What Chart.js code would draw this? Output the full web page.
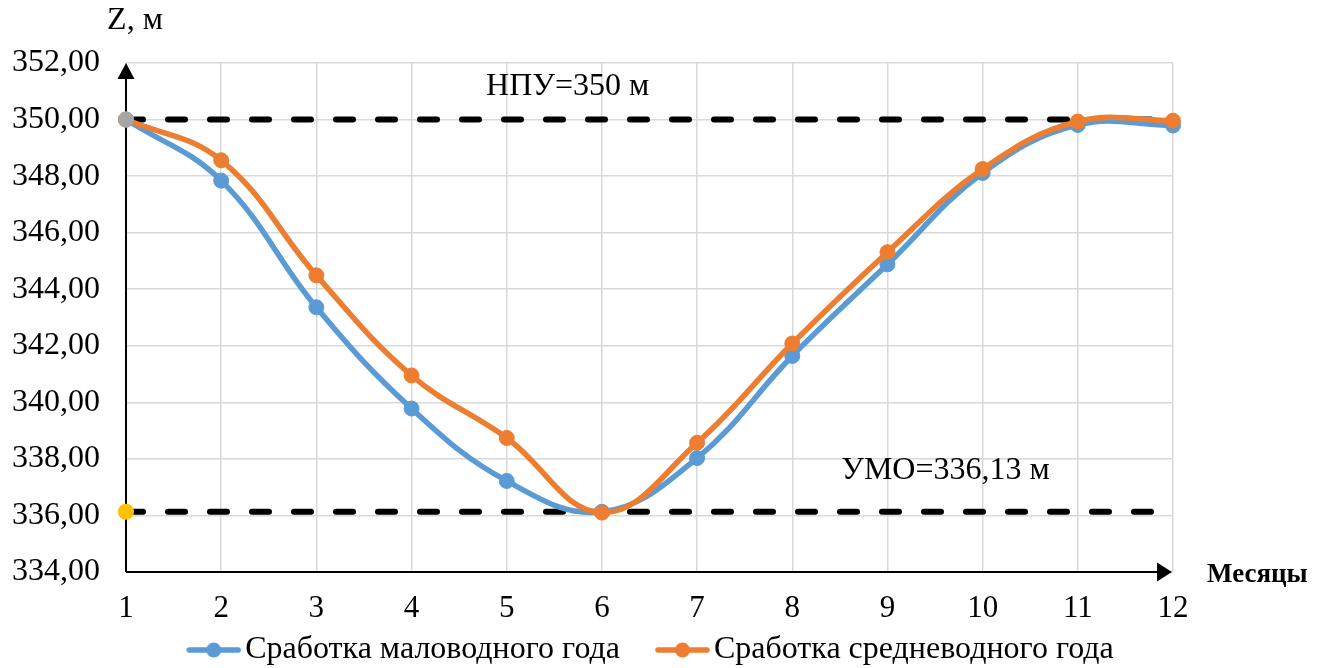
<!DOCTYPE html>
<html>
<head>
<meta charset="utf-8">
<script src="https://cdn.jsdelivr.net/npm/chart.js@4"></script>
<style>
  html, body { margin: 0; padding: 0; background: #ffffff; }
  #wrap { width: 1323px; height: 668px; }
</style>
</head>
<body>
<div id="wrap"><canvas id="chart" width="1323" height="668"></canvas></div>
<script>
// Months of the drawdown cycle
const months = [1, 2, 3, 4, 5, 6, 7, 8, 9, 10, 11, 12];

// Reservoir level Z, m
const lowWaterYear = [350.00, 347.84, 343.36, 339.78, 337.22, 336.13, 338.03, 341.64, 344.88, 348.11, 349.81, 349.79];
const averageYear  = [350.00, 348.56, 344.49, 340.95, 338.74, 336.10, 338.57, 342.08, 345.31, 348.25, 349.93, 349.96];

// Characteristic levels
const levelNPU = 350.00;
const levelUMO = 336.13;

// Axis ticks
const zTicks = [334, 336, 338, 340, 342, 344, 346, 348, 350, 352];

// Labels of the characteristic levels and where they sit (data coordinates)
const labelNPU = 'НПУ=350 м';
const labelUMO = 'УМО=336,13 м';
const anchorNPU = { x: 5.64, y: 351.16 };
const anchorUMO = { x: 9.61, y: 337.60 };

const seriesNames = ['Сработка маловодного года', 'Сработка средневодного года'];

const FONT = "'Liberation Serif', 'Times New Roman', serif";
const BLUE = '#5B9BD5';
const ORANGE = '#ED7D31';
const GREY = '#A5A5A5';
const YELLOW = '#FFC000';

Chart.defaults.font.family = FONT;
Chart.defaults.color = '#000000';

const pairs = (xs, ys) => xs.map((x, i) => ({ x, y: ys[i] }));

// Legend glyph: a short line with a dot, drawn at the right end of a wider transparent canvas
function legendGlyph(color) {
  const c = document.createElement('canvas');
  c.width = 100; c.height = 18;
  const g = c.getContext('2d');
  const right = c.width - 1;
  const left = right - 55;
  g.strokeStyle = color;
  g.lineWidth = 5.5;
  g.lineCap = 'round';
  g.beginPath();
  g.moveTo(left + 3, 9);
  g.lineTo(right - 3, 9);
  g.stroke();
  g.fillStyle = color;
  g.beginPath();
  g.arc((left + right) / 2, 9, 7.5, 0, Math.PI * 2);
  g.fill();
  return c;
}
const glyphs = [legendGlyph(BLUE), legendGlyph(ORANGE)];

// Axis lines with arrowheads and the free-standing captions
const axesAndCaptions = {
  id: 'axesAndCaptions',
  beforeDatasetsDraw(chart) {
    const { ctx, scales: { x, y } } = chart;
    const x0 = x.getPixelForValue(months[0]);
    const x1 = x.getPixelForValue(months[months.length - 1]);
    const yb = y.getPixelForValue(zTicks[0]);
    const yt = y.getPixelForValue(zTicks[zTicks.length - 1]);
    ctx.save();
    ctx.strokeStyle = '#000';
    ctx.fillStyle = '#000';
    ctx.lineWidth = 2;
    // vertical axis
    ctx.beginPath();
    ctx.moveTo(x0, yb);
    ctx.lineTo(x0, yt + 12);
    ctx.stroke();
    ctx.beginPath();
    ctx.moveTo(x0, yt);
    ctx.lineTo(x0 - 8.5, yt + 16);
    ctx.lineTo(x0 + 8.5, yt + 16);
    ctx.closePath();
    ctx.fill();
    // horizontal axis
    ctx.beginPath();
    ctx.moveTo(x0, yb);
    ctx.lineTo(x1 - 14, yb);
    ctx.stroke();
    ctx.beginPath();
    ctx.moveTo(x1 - 1, yb);
    ctx.lineTo(x1 - 16, yb - 9.5);
    ctx.lineTo(x1 - 16, yb + 9.5);
    ctx.closePath();
    ctx.fill();
    ctx.restore();
  },
  afterDraw(chart) {
    const { ctx, chartArea: a, scales: { x, y } } = chart;
    ctx.save();
    ctx.fillStyle = '#000';
    ctx.textBaseline = 'middle';
    ctx.font = `32px ${FONT}`;
    ctx.textAlign = 'center';
    ctx.fillText('Z, м', a.left + 9, a.top - 42);
    ctx.fillText(labelNPU, x.getPixelForValue(anchorNPU.x), y.getPixelForValue(anchorNPU.y));
    ctx.fillText(labelUMO, x.getPixelForValue(anchorUMO.x), y.getPixelForValue(anchorUMO.y));
    ctx.font = `bold 27px ${FONT}`;
    ctx.textAlign = 'left';
    ctx.fillText('Месяцы', a.right + 34, a.bottom + 3);
    ctx.restore();
  }
};

const dashed = {
  borderColor: '#000000',
  borderWidth: 6,
  borderDash: [17, 25],
  borderCapStyle: 'round',
  pointRadius: 0,
  pointHoverRadius: 0,
  tension: 0,
  order: 5,
  clip: false
};

const series = (label, color, values, order) => ({
  label,
  data: pairs(months, values),
  borderColor: color,
  backgroundColor: color,
  pointBackgroundColor: color,
  pointBorderColor: color,
  borderWidth: 5.5,
  pointRadius: 7.5,
  pointBorderWidth: 1,
  pointHoverRadius: 7.5,
  tension: 0.4,
  order,
  clip: false
});

new Chart(document.getElementById('chart'), {
  type: 'line',
  data: {
    datasets: [
      series(seriesNames[0], BLUE, lowWaterYear, 3),
      series(seriesNames[1], ORANGE, averageYear, 2),
      Object.assign({ label: labelNPU, data: [{ x: months[0], y: levelNPU }, { x: months[months.length - 1], y: levelNPU }] }, dashed),
      Object.assign({ label: labelUMO, data: [{ x: months[0], y: levelUMO }, { x: months[months.length - 1], y: levelUMO }] }, dashed),
      {
        label: 'НПУ', data: [{ x: months[0], y: levelNPU }], showLine: false,
        pointRadius: 8, pointBackgroundColor: GREY, pointBorderColor: GREY, pointBorderWidth: 0, order: 1, clip: false
      },
      {
        label: 'УМО', data: [{ x: months[0], y: levelUMO }], showLine: false,
        pointRadius: 8, pointBackgroundColor: YELLOW, pointBorderColor: YELLOW, pointBorderWidth: 0, order: 1, clip: false
      }
    ]
  },
  options: {
    responsive: false,
    animation: false,
    devicePixelRatio: 1,
    layout: { padding: { left: 0, right: 54, top: 63, bottom: -8 } },
    plugins: {
      tooltip: { enabled: false },
      legend: {
        position: 'bottom',
        labels: {
          font: { size: 32, family: FONT },
          color: '#000000',
          padding: 4,
          usePointStyle: true,
          pointStyleWidth: 74,
          generateLabels: () => seriesNames.map((name, i) => ({
            text: name,
            pointStyle: glyphs[i],
            fillStyle: 'transparent',
            strokeStyle: 'transparent',
            lineWidth: 0,
            hidden: false,
            datasetIndex: i
          }))
        }
      }
    },
    scales: {
      x: {
        type: 'linear',
        min: months[0],
        max: months[months.length - 1],
        afterBuildTicks: (s) => { s.ticks = months.map(v => ({ value: v })); },
        afterFit: (s) => { s.height = 58; },
        grid: { color: '#d9d9d9', lineWidth: 1.5, drawTicks: false },
        border: { display: false },
        ticks: { font: { size: 31 }, color: '#000', padding: 18, maxRotation: 0 }
      },
      y: {
        type: 'linear',
        min: zTicks[0],
        max: zTicks[zTicks.length - 1],
        afterBuildTicks: (s) => { s.ticks = zTicks.map(v => ({ value: v })); },
        afterFit: (s) => { s.width = 126; },
        grid: { color: '#d9d9d9', lineWidth: 1.5, drawTicks: false },
        border: { display: false },
        ticks: {
          font: { size: 32 }, color: '#000', padding: 26,
          callback: (v) => v.toFixed(2).replace('.', ',')
        }
      },
      yRight: {
        type: 'linear',
        position: 'right',
        display: true,
        afterFit: (s) => { s.width = 96; },
        grid: { display: false, drawTicks: false },
        border: { display: false },
        ticks: { display: false }
      }
    }
  },
  plugins: [axesAndCaptions]
});
</script>
</body>
</html>
